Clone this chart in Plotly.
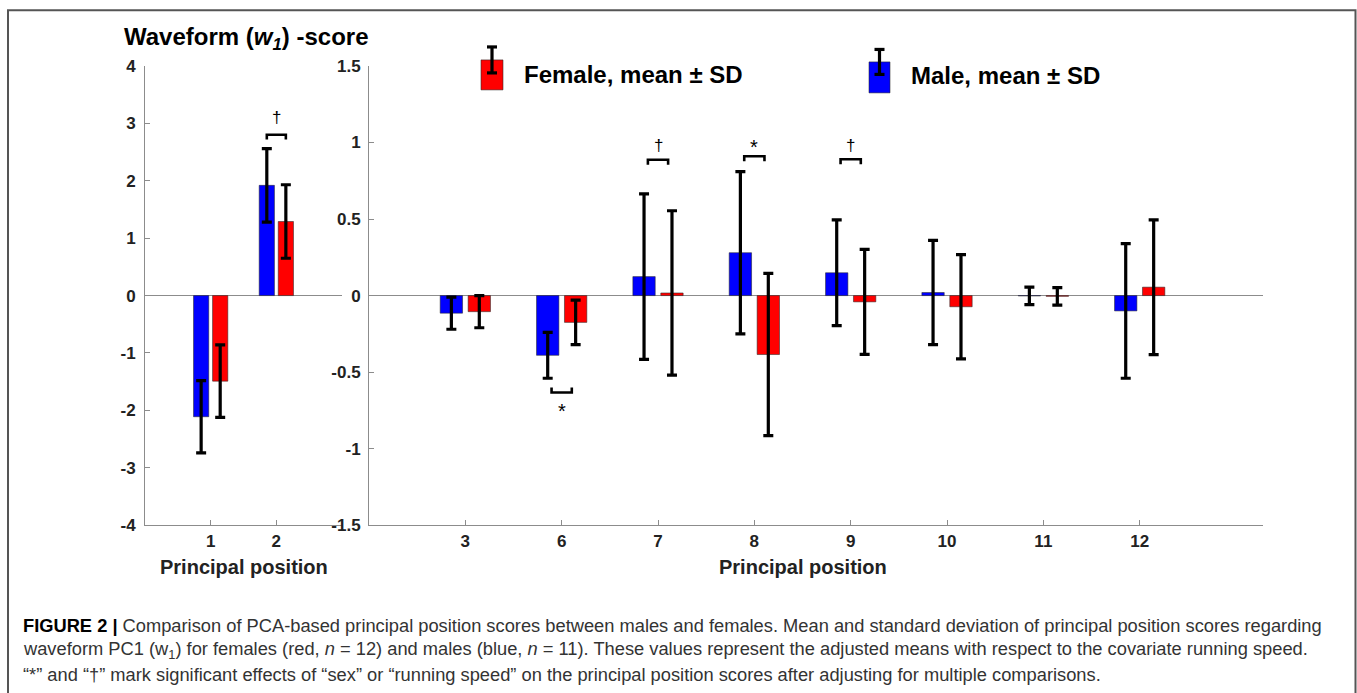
import plotly.graph_objects as go

W, H = 1357, 693
# the captured picture maps page y to picture y as  y_pic = 8 + 0.974 * y_page;
# layout targets below are given in picture pixels and converted back
OY, SY = 8.0, 0.974

# ---------------- data ----------------
left_positions = [1, 2]
left_labels = ["1", "2"]
male_left = [-2.11, 1.92]
male_left_sd = [0.63, 0.64]
female_left = [-1.49, 1.29]
female_left_sd = [0.63, 0.64]

right_labels = ["3", "6", "7", "8", "9", "10", "11", "12"]
male_right = [-0.115, -0.39, 0.124, 0.28, 0.149, 0.02, -0.002, -0.10]
male_right_sd = [0.105, 0.15, 0.54, 0.53, 0.345, 0.34, 0.057, 0.44]
female_right = [-0.105, -0.175, 0.017, -0.385, -0.041, -0.073, -0.005, 0.055]
female_right_sd = [0.105, 0.145, 0.537, 0.53, 0.343, 0.34, 0.057, 0.44]

left_yticks = [4, 3, 2, 1, 0, -1, -2, -3, -4]
right_yticks = [1.5, 1, 0.5, 0, -0.5, -1, -1.5]

# significance marks: (panel, category label, symbol, bracket level, side)
sig_marks = [
    ("left", "2", "†", 2.80, "above"),
    ("right", "7", "†", 0.887, "above"),
    ("right", "8", "*", 0.91, "above"),
    ("right", "9", "†", 0.89, "above"),
    ("right", "6", "*", -0.633, "below"),
]

# ---------------- styling ----------------
BLUE = "#0000ff"
RED = "#ff0000"
EDGE = "rgba(40,40,40,0.55)"
AXIS = "#8c8c8c"
TICKC = "#222222"
FONT = "Liberation Sans, Arial, sans-serif"


def px(x):
    return x / W


def py(y):
    return 1 - ((y - OY) / SY) / H


right_x = list(range(len(right_labels)))

fig = go.Figure()

err_style = dict(type="data", visible=True, color="black", thickness=3.2, width=5)

fig.add_trace(go.Bar(x=left_positions, y=male_left, marker=dict(color=BLUE, line=dict(color=EDGE, width=1)),
                     error_y=dict(array=male_left_sd, **err_style), xaxis="x", yaxis="y",
                     showlegend=False, offsetgroup="m"))
fig.add_trace(go.Bar(x=left_positions, y=female_left, marker=dict(color=RED, line=dict(color=EDGE, width=1)),
                     error_y=dict(array=female_left_sd, **err_style), xaxis="x", yaxis="y",
                     showlegend=False, offsetgroup="f"))
fig.add_trace(go.Bar(x=right_x, y=male_right, marker=dict(color=BLUE, line=dict(color=EDGE, width=1)),
                     error_y=dict(array=male_right_sd, **err_style), xaxis="x2", yaxis="y2",
                     showlegend=False, offsetgroup="m"))
fig.add_trace(go.Bar(x=right_x, y=female_right, marker=dict(color=RED, line=dict(color=EDGE, width=1)),
                     error_y=dict(array=female_right_sd, **err_style), xaxis="x2", yaxis="y2",
                     showlegend=False, offsetgroup="f"))

ydom = [py(525), py(65)]
tickfont = dict(family=FONT, size=17, color=TICKC, weight="bold")
common_axis = dict(showline=True, linecolor=AXIS, linewidth=1, ticks="inside", tickcolor=AXIS,
                   ticklen=5, showgrid=False, tickfont=tickfont)

fig.update_layout(
    width=W, height=H,
    margin=dict(l=0, r=0, t=0, b=0),
    paper_bgcolor="white", plot_bgcolor="rgba(0,0,0,0)",
    barmode="group", bargap=0.42, bargroupgap=0.2,
    showlegend=False,
    xaxis=dict(domain=[px(145), px(342)], range=[0, 3], anchor="y",
               tickvals=left_positions, ticktext=left_labels, zeroline=False, **common_axis),
    yaxis=dict(domain=ydom, range=[-4, 4], anchor="x",
               tickvals=left_yticks, ticktext=[f"{v:g}" for v in left_yticks],
               zeroline=True, zerolinecolor=AXIS, zerolinewidth=1, ticklabelstandoff=5, **common_axis),
    xaxis2=dict(domain=[px(369), px(1263)], range=[-1, 8.28], anchor="y2",
                tickvals=right_x, ticktext=right_labels, zeroline=False, **common_axis),
    yaxis2=dict(domain=ydom, range=[-1.5, 1.5], anchor="x2",
                tickvals=right_yticks, ticktext=[f"{v:g}" for v in right_yticks],
                zeroline=True, zerolinecolor=AXIS, zerolinewidth=1, ticklabelstandoff=4, **common_axis),
)

shapes = []
annotations = []

# significance brackets, built from category positions
for panel, cat, sym, level, side in sig_marks:
    if panel == "left":
        xc = left_positions[left_labels.index(cat)]
        half = 0.145
        xr, yr = "x", "y"
        leg = 0.08
        txt_off = 0.30
    else:
        xc = right_x[right_labels.index(cat)]
        half = 0.105
        xr, yr = "x2", "y2"
        leg = 0.032
        txt_off = 0.09
    sgn = 1 if side == "above" else -1
    x0, x1 = xc - half, xc + half
    yleg = level - sgn * leg
    shapes.append(dict(type="path", xref=xr, yref=yr,
                       path=f"M {x0},{yleg} L {x0},{level} L {x1},{level} L {x1},{yleg}",
                       line=dict(color="black", width=2.6)))
    size = 17 if sym == "†" else 20
    ytxt = level + sgn * txt_off
    if sym == "*":
        ytxt = level + sgn * txt_off - 0.03
    annotations.append(dict(x=xc, y=ytxt, xref=xr, yref=yr, text=sym, showarrow=False,
                            font=dict(family=FONT, size=size, color="black"),
                            xanchor="center", yanchor="middle"))


# custom legend glyphs (picture pixel layout)
def legend_glyph(x0, x1, y0, y1, ey0, ey1, color):
    shapes.append(dict(type="rect", xref="paper", yref="paper", x0=px(x0), x1=px(x1), y0=py(y1), y1=py(y0),
                       fillcolor=color, line=dict(color=EDGE, width=1)))
    xc = (x0 + x1) / 2
    shapes.append(dict(type="line", xref="paper", yref="paper", x0=px(xc), x1=px(xc), y0=py(ey1), y1=py(ey0),
                       line=dict(color="black", width=3.2)))
    for ey in (ey0, ey1):
        shapes.append(dict(type="line", xref="paper", yref="paper", x0=px(xc - 5), x1=px(xc + 5),
                           y0=py(ey), y1=py(ey), line=dict(color="black", width=3.2)))


legend_glyph(481, 503, 59, 89, 46, 72, RED)
legend_glyph(869, 890, 61, 92, 48.5, 73.5, BLUE)

legend_font = dict(family=FONT, size=24, color="black", weight="bold")
annotations.append(dict(x=px(522), y=py(74), xref="paper", yref="paper", text="Female, mean ± SD",
                        showarrow=False, xanchor="left", yanchor="middle", font=legend_font))
annotations.append(dict(x=px(909), y=py(75), xref="paper", yref="paper", text="Male, mean ± SD",
                        showarrow=False, xanchor="left", yanchor="middle", font=legend_font))

# title
annotations.append(dict(x=px(122), y=py(38), xref="paper", yref="paper",
                        text="Waveform (<i>w<sub>1</sub></i>) -score", showarrow=False,
                        xanchor="left", yanchor="middle",
                        font=dict(family=FONT, size=24, color="black", weight="bold")))

# axis titles
xt_font = dict(family=FONT, size=20, color=TICKC, weight="bold")
annotations.append(dict(x=1.5, y=py(567), xref="x", yref="paper", text="Principal position",
                        showarrow=False, xanchor="center", yanchor="middle", font=xt_font))
annotations.append(dict(x=(right_x[0] + right_x[-1]) / 2, y=py(567), xref="x2", yref="paper",
                        text="Principal position", showarrow=False, xanchor="center", yanchor="middle",
                        font=xt_font))

# caption
cap_font = dict(family=FONT, size=18.3, color="#333333")
caption_lines = [
    "<b style='color:#000'>FIGURE 2 |</b> Comparison of PCA-based principal position scores between males and females. "
    "Mean and standard deviation of principal position scores regarding",
    "waveform PC1 (w<sub>1</sub>) for females (red, <i>n</i> = 12) and males (blue, <i>n</i> = 11). "
    "These values represent the adjusted means with respect to the covariate running speed.",
    "“*” and “†” mark significant effects of “sex” or “running speed” on the principal position scores "
    "after adjusting for multiple comparisons.",
]
for i, line in enumerate(caption_lines):
    annotations.append(dict(x=px(21), y=py(625 + 24.5 * i), xref="paper", yref="paper", text=line,
                            showarrow=False, xanchor="left", yanchor="middle", font=cap_font))

# outer frame
shapes.append(dict(type="rect", xref="paper", yref="paper", x0=px(8), x1=px(1355.5), y0=-0.05,
                   y1=min(py(8.5), 1 - 1.2 / H),
                   line=dict(color="#555555", width=2), fillcolor="rgba(0,0,0,0)", layer="above"))

fig.update_layout(shapes=shapes, annotations=annotations)

fig.write_html("out.html", config={"displayModeBar": False},
               post_script="document.body.style.margin='0';document.body.style.overflow='hidden';")
